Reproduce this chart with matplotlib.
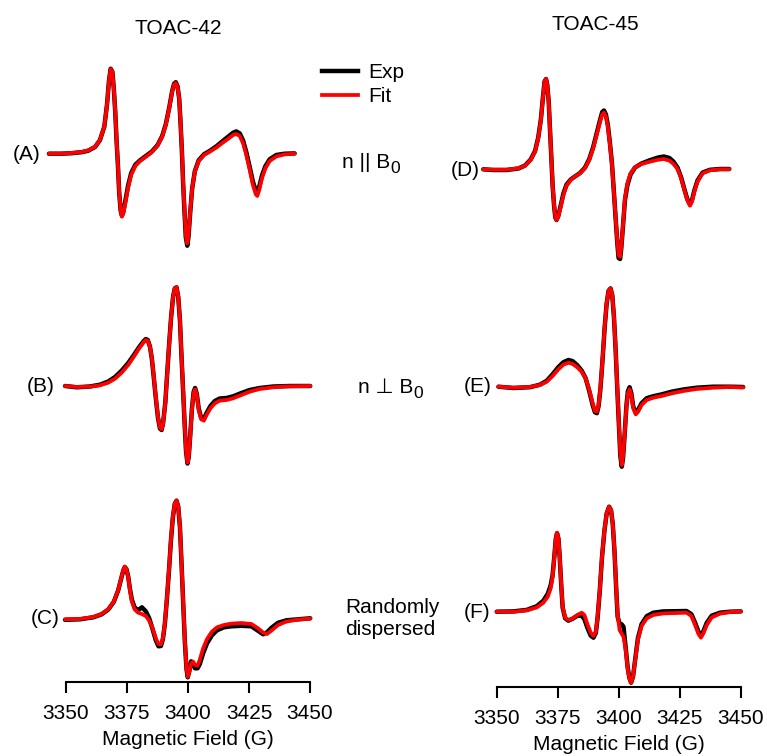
import matplotlib
matplotlib.use("Agg")
import matplotlib.pyplot as plt
from matplotlib.lines import Line2D

plt.rcParams['font.family'] = ['Liberation Sans', 'DejaVu Sans']
plt.rcParams['font.size'] = 15

# field axis
ticks = [3350, 3375, 3400, 3425, 3450]

# TOAC-42, n || B0  (A)
a_field = [3343.0, 3348.2, 3352.3, 3356.4, 3359.1, 3361.9, 3363.9, 3365.7, 3366.8, 3367.6,
           3368.3, 3369.0, 3369.6, 3370.2, 3370.7, 3371.3, 3371.8, 3372.4, 3372.9, 3373.5,
           3374.3, 3375.4, 3376.7, 3378.4, 3380.4, 3382.6, 3385.1, 3387.5, 3389.4, 3390.9,
           3392.3, 3393.5, 3394.3, 3395.0, 3395.7, 3396.4, 3396.9, 3397.5, 3398.0, 3398.6,
           3399.1, 3399.7, 3400.2, 3400.9, 3401.7, 3402.8, 3404.4, 3406.6, 3408.9, 3411.7,
           3414.4, 3416.7, 3418.5, 3419.8, 3421.2, 3422.6, 3423.9, 3425.3, 3426.6, 3427.8,
           3428.4, 3429.2, 3430.3, 3431.7, 3433.5, 3436.2, 3439.6, 3443.7]
a_fit = [0, 0, 0.7, 1.7, 3.3, 7, 13.7, 27, 48.7, 72,
         84.7, 82, 65.3, 42, 15.3, -11.3, -38, -56.3, -63, -59.7,
         -49.7, -34.7, -21.3, -12.3, -7.3, -3.3, 1.3, 8, 17, 28.7,
         45.3, 62, 69.3, 70.7, 67, 55.3, 33.7, 3.7, -28, -58,
         -81.3, -89.7, -81.3, -58, -34.7, -18, -7.3, -1.3, 2, 6.3,
         11.3, 15.3, 18.7, 19.7, 17.7, 10.3, -1.3, -16.3, -31.3, -40.7,
         -42.3, -36.3, -24.7, -14.7, -7.3, -2.7, -0.7, 0]
a_exp = [0, 0, 0.5, 1.5, 3, 6.7, 13.5, 27, 49, 72.5,
         85, 82, 65, 41, 14, -12.5, -39, -57, -62, -58,
         -47.5, -32.5, -19.5, -11, -6.5, -2.5, 2, 8.5, 17.5, 29.5,
         46, 62.5, 70, 71.5, 67.5, 55, 33, 2.5, -29.5, -60,
         -83.5, -92, -83, -59, -35, -17.5, -6.5, -0.5, 2.8, 7.5,
         13, 17.5, 21, 22.3, 20.3, 13, 1.5, -13.5, -28, -37,
         -38.5, -33, -22, -12.5, -5.5, -1.3, 0, 0.3]

# TOAC-42, n perp B0  (B)
b_field = [3349.6, 3354.4, 3359.8, 3363.9, 3367.3, 3370.1, 3372.8, 3375.5, 3377.8, 3380.0,
           3381.7, 3382.7, 3383.5, 3384.4, 3385.2, 3386.0, 3386.8, 3387.7, 3388.5, 3389.2,
           3389.8, 3390.7, 3391.5, 3392.3, 3393.1, 3393.9, 3394.6, 3395.3, 3396.0, 3396.7,
           3397.3, 3398.0, 3398.7, 3399.2, 3399.8, 3400.3, 3400.9, 3401.6, 3402.3, 3402.9,
           3403.6, 3404.4, 3405.4, 3406.5, 3407.6, 3409.2, 3411.0, 3413.0, 3415.8, 3418.5,
           3421.9, 3425.3, 3429.4, 3434.9, 3441.7, 3450.1]
b_fit = [0, -1, -0.7, 0.7, 3.3, 7.3, 13.3, 21, 29.3, 37.7,
         43.3, 46, 45.3, 39.3, 27.7, 9.3, -10.7, -30.7, -41.7, -43.3,
         -37.3, -17.3, 12.7, 42.7, 69.3, 89.3, 97.7, 98.7, 89.3, 66,
         32.7, -4, -40.7, -64, -76.7, -70.7, -50.7, -24, -7.3, -3.3,
         -9, -24, -33.3, -34.7, -29, -22.3, -17.3, -14.7, -14, -12.3,
         -9, -5.7, -3, -1.3, -0.3, 0]
b_exp = [0, -1.3, -0.5, 1.3, 4.5, 9, 15.3, 23, 31, 39,
         44.5, 47, 46, 39.5, 27, 8, -12, -32, -42.5, -44,
         -37, -16.5, 13.5, 43, 69.5, 89.5, 97.7, 98.7, 89, 65.5,
         31.5, -5, -42, -65.5, -77.5, -71, -50, -23, -6, -2,
         -8, -22.5, -32, -33, -27, -20, -15, -12.5, -12, -10.3,
         -7, -4, -2, -0.5, 0, 0]

# TOAC-42, randomly dispersed  (C)
c_field = [3349.6, 3355.7, 3361.2, 3364.6, 3367.3, 3369.6, 3371.4, 3372.6, 3373.5, 3374.1,
           3374.8, 3375.5, 3376.2, 3377.0, 3378.1, 3379.5, 3381.1, 3382.7, 3384.1, 3385.5,
           3386.8, 3387.9, 3388.9, 3389.7, 3390.5, 3391.3, 3392.2, 3393.0, 3393.8, 3394.6,
           3395.3, 3396.0, 3396.7, 3397.3, 3398.0, 3398.7, 3399.4, 3399.9, 3400.6, 3401.3,
           3402.1, 3402.9, 3403.9, 3404.8, 3406.2, 3407.8, 3409.8, 3411.9, 3414.7, 3417.8,
           3421.9, 3426.0, 3428.7, 3430.8, 3432.4, 3434.2, 3436.9, 3440.3, 3445.1, 3450.1]
c_fit = [0, 0.3, 2.3, 5.3, 10, 17.7, 29.3, 41, 49.3, 52.7,
         50, 42, 29.3, 17.7, 10, 6.7, 5.3, 3.3, -1.3, -9,
         -19, -24.7, -25, -19, -4, 19.3, 49.3, 79.3, 102.7, 116,
         118.7, 112.7, 92.7, 59.3, 19.3, -20.7, -49, -57.3, -52.3, -44,
         -42.3, -45.7, -46.3, -40.7, -29, -19.7, -12.3, -8, -5.7, -4.3,
         -3.7, -4.7, -9, -13.3, -14.7, -11.3, -5.7, -2.3, -0.3, 0.7]
c_exp = [-0.5, 0, 2, 5, 9.7, 17.5, 29, 40.5, 49, 52.3,
         50, 42.5, 30.5, 19.5, 12, 9, 12, 8, 1, -10,
         -21, -27, -26.7, -20, -5, 18.5, 48.5, 78.5, 102, 115.5,
         118.7, 112.5, 92, 58.5, 18, -22, -50, -58, -51, -42,
         -46, -49, -49, -45, -34, -24, -16, -11, -8, -7,
         -6.5, -7, -11.5, -15, -13, -8.5, -3.5, -1, 0, 1]

# TOAC-45, n || B0  (D)
d_field = [3344.5, 3348.6, 3354.1, 3358.9, 3361.6, 3363.9, 3365.7, 3367.0, 3368.1, 3368.9,
           3369.6, 3370.2, 3370.7, 3371.3, 3371.8, 3372.4, 3372.9, 3373.5, 3374.0, 3374.5,
           3375.2, 3376.2, 3377.3, 3378.6, 3380.3, 3382.0, 3384.1, 3386.1, 3387.9, 3389.5,
           3390.9, 3392.3, 3393.2, 3393.9, 3394.7, 3395.5, 3396.3, 3397.2, 3398.0, 3398.7,
           3399.4, 3399.9, 3400.5, 3401.0, 3401.7, 3402.5, 3403.5, 3404.8, 3406.6, 3409.3,
           3412.7, 3416.1, 3418.4, 3420.7, 3422.3, 3424.0, 3425.5, 3426.8, 3428.0, 3429.1,
           3429.9, 3430.9, 3432.2, 3434.3, 3437.3, 3441.4, 3445.2]
d_fit = [-0.3, -0.7, -0.7, 0.7, 3.3, 9, 17.3, 30.7, 49, 70.7,
         87.3, 90, 84, 67.3, 40.7, 10.7, -16, -36, -47.7, -51,
         -47.7, -37.7, -26, -16.7, -11, -7.7, -4.3, 0.7, 9, 20.7,
         34, 47.3, 54.7, 56.3, 52.3, 42.3, 25.7, 4, -24.3, -49.3,
         -72.7, -86, -87.7, -77.7, -56, -29.3, -14.3, -4.3, 1.7, 5,
         7.3, 9.3, 10, 8.3, 5.3, 0, -9.3, -21, -31, -36.7,
         -32.7, -22.7, -12.7, -4.3, -1.3, -0.3, -0.3]
d_exp = [-0.3, -1, -1, 0.5, 3.5, 9.5, 18, 31.5, 50, 71,
         87.5, 90, 84, 67, 40, 9.5, -17, -37, -48.5, -51,
         -47, -36.5, -24.5, -15.5, -10.5, -7.5, -4, 1.3, 10, 22,
         35.5, 49, 57, 58.5, 54.5, 44, 27, 5, -24, -50,
         -75, -89, -90, -79, -57, -31, -16, -5.5, 1.5, 5.5,
         8.8, 11.5, 12.5, 11, 7.5, 1.5, -8.5, -20, -30, -35.5,
         -31.5, -21.5, -11.5, -3.5, -0.8, 0, 0]

# TOAC-45, n perp B0  (E)
e_field = [3350.7, 3356.8, 3363.6, 3367.7, 3370.5, 3372.9, 3375.2, 3377.3, 3379.4, 3381.1,
           3383.0, 3384.8, 3386.4, 3387.9, 3389.3, 3390.2, 3391.0, 3391.7, 3392.5, 3393.4,
           3394.2, 3395.0, 3395.8, 3396.6, 3397.3, 3398.0, 3398.7, 3399.4, 3400.1, 3400.6,
           3401.2, 3401.7, 3402.4, 3403.1, 3403.7, 3404.4, 3405.1, 3405.9, 3406.9, 3407.9,
           3409.3, 3411.4, 3414.1, 3417.5, 3421.6, 3426.4, 3431.8, 3438.6, 3445.4, 3450.9]
e_fit = [0, -1, -0.3, 1.7, 5, 10.7, 17.3, 22, 24, 22.7,
         19.3, 15, 8.3, -3.3, -16.7, -24, -25, -18.3, 0, 30,
         60, 83.3, 96, 98.3, 91.7, 70, 36.7, -3.3, -40, -66.7,
         -78.3, -70, -46.7, -20, -6.7, -2.7, -8.3, -21.7, -27.7, -25,
         -18.3, -13.3, -11, -9.3, -6.7, -4.3, -2.3, -1, -0.3, -0.7]
e_exp = [0, -1.3, -0.5, 2, 6, 12.5, 19.5, 24.5, 26.7, 25.5,
         21.5, 16, 8.5, -4.5, -18.5, -25.5, -26.5, -19.5, -1, 29.5,
         59.5, 83, 96, 98.3, 91.5, 69.5, 36, -4.5, -42, -69,
         -80, -71.5, -47, -19, -4.5, -0.5, -6.5, -20, -25.5, -23,
         -16.5, -11.5, -9.5, -7.7, -5, -2.8, -1, 0, 0, -0.3]

# TOAC-45, randomly dispersed  (F)
f_field = [3350.0, 3356.8, 3362.3, 3366.4, 3369.1, 3370.9, 3372.1, 3372.9, 3373.6, 3374.2,
           3374.7, 3375.3, 3375.8, 3376.4, 3377.0, 3378.0, 3379.3, 3381.1, 3383.0, 3384.8,
           3385.9, 3387.1, 3388.5, 3389.6, 3390.6, 3391.3, 3392.2, 3393.1, 3394.1, 3395.0,
           3396.0, 3396.8, 3397.5, 3398.2, 3398.9, 3399.5, 3400.3, 3401.1, 3401.9, 3402.8,
           3403.6, 3404.3, 3405.0, 3405.8, 3406.7, 3407.8, 3409.3, 3411.4, 3414.1, 3418.2,
           3423.6, 3427.7, 3429.7, 3431.2, 3432.6, 3433.6, 3434.6, 3436.0, 3438.0, 3441.4,
           3445.5, 3449.9]
f_fit = [0, 0, 1.3, 4.3, 9, 15, 23.3, 35, 55, 73.3,
         79, 73.3, 55, 28.3, 5, -5.7, -8.3, -6.7, -3.3, -1,
         -3.3, -12.3, -21, -24.3, -20, -5, 21.7, 55, 81.7, 98.3,
         105, 101.7, 88.3, 61.7, 25, -3.3, -18.3, -21.7, -25, -38.3,
         -56.7, -66.7, -71, -65, -48.3, -28.3, -14.3, -6.7, -3.3, -1.7,
         -1.3, -1, -4.3, -13.3, -22.3, -26, -21.7, -13.3, -5.7, -2,
         -0.3, 0.3]
f_exp = [0, 0.3, 1.8, 5.5, 11, 18, 26.5, 37, 55.5, 73,
         78.5, 72.5, 54, 27, 4, -6.5, -9, -7, -4, -4,
         -7.5, -16, -24, -26, -21, -6, 21, 54.5, 81, 98,
         105, 101.5, 88, 61, 24, -5, -12, -12.5, -15, -36,
         -55.5, -66, -71, -65, -47.5, -26.5, -12.5, -4.5, -1, 0.3,
         0.5, 0.7, -2.5, -11, -20, -24, -19.5, -11, -4, -1,
         0, 0.3]

W, H = 767, 756
fig = plt.figure(figsize=(W / 100, H / 100), dpi=100)


def fx(x):
    return x / W


def fy(y):
    return 1 - y / H


def make_col(x0, x1, ybot):
    ax = fig.add_axes([x0 / W, (H - ybot) / H, (x1 - x0) / W, ybot / H])
    ax.set_xlim(3350, 3450)
    ax.set_ylim(0, ybot)
    for s in ('top', 'left', 'right'):
        ax.spines[s].set_visible(False)
    ax.spines['bottom'].set_linewidth(1.5)
    ax.set_yticks([])
    ax.set_xticks(ticks)
    ax.tick_params(axis='x', direction='out', length=8, width=1.5, pad=8, labelsize=15)
    ax.set_xlabel('Magnetic Field (G)', fontsize=15, labelpad=5)
    ax.patch.set_visible(False)
    return ax


def spectrum(ax, field, exp, fit, base):
    ax.plot(field, [base + v for v in exp], color='black', lw=3.2, clip_on=False,
            solid_joinstyle='round', solid_capstyle='round')
    ax.plot(field, [base + v for v in fit], color='#ff0000', lw=2.7, clip_on=False,
            solid_joinstyle='round', solid_capstyle='round')


ax1 = make_col(66, 310, 681.7)
spectrum(ax1, a_field, a_exp, a_fit, 528)
spectrum(ax1, b_field, b_exp, b_fit, 295.7)
spectrum(ax1, c_field, c_exp, c_fit, 62.4)

ax2 = make_col(496.7, 741, 687)
spectrum(ax2, d_field, d_exp, d_fit, 518)
spectrum(ax2, e_field, e_exp, e_fit, 300.3)
spectrum(ax2, f_field, f_exp, f_fit, 75.3)

# titles
fig.text(fx(178.5), fy(28), 'TOAC-42', ha='center', va='center', fontsize=15)
fig.text(fx(595), fy(25), 'TOAC-45', ha='center', va='center', fontsize=15)

# panel letters
for lab, x, y in [('(A)', 40, 154), ('(B)', 55, 386), ('(C)', 60, 618),
                  ('(D)', 480, 170), ('(E)', 492, 387), ('(F)', 490, 613)]:
    fig.text(fx(x), fy(y), lab, ha='right', va='center', fontsize=15)

# orientation labels, B with a subscript 0
for txt, x, y in [('n || B', 342, 168), ('n \u22a5 B', 358, 393)]:
    t = fig.text(fx(x), fy(y), txt, ha='left', va='baseline', fontsize=15)
    ax1.annotate('0', xy=(1, 0), xycoords=t, xytext=(0.3, -0.5), textcoords='offset points',
                 ha='left', va='baseline', fontsize=12.5, annotation_clip=False)
fig.text(fx(345), fy(612.7), 'Randomly', ha='left', va='baseline', fontsize=15)
fig.text(fx(345), fy(635), 'dispersed', ha='left', va='baseline', fontsize=15)

handles = [Line2D([], [], color='black', lw=3.2), Line2D([], [], color='#ff0000', lw=2.7)]
fig.legend(handles, ['Exp', 'Fit'], loc='upper left', bbox_to_anchor=(fx(322), fy(63)),
           frameon=False, handlelength=1.75, handletextpad=0.45, labelspacing=0.25,
           borderpad=0, borderaxespad=0, fontsize=15)

fig.savefig('out.png', dpi=100)
